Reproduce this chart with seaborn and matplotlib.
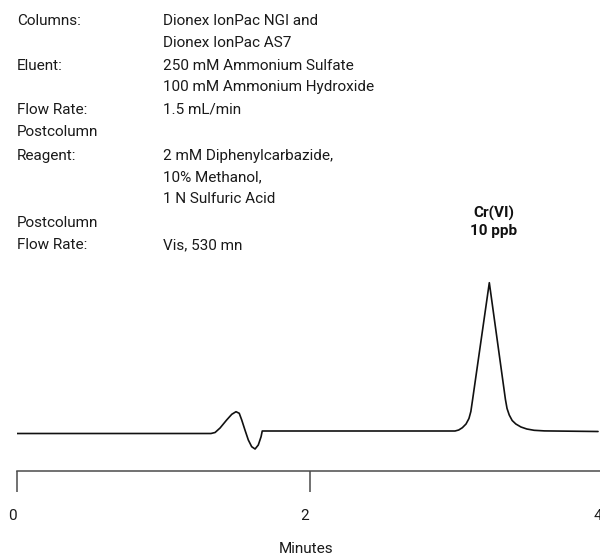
import seaborn as sns
import matplotlib.pyplot as plt
from matplotlib.transforms import ScaledTranslation
import pandas as pd

# Chromatogram trace (minutes, detector signal)
tempo = [0.000, 1.324, 1.352, 1.386, 1.431, 1.466, 1.495, 1.517, 1.534, 1.556,
         1.579, 1.602, 1.625, 1.647, 1.666, 1.674, 2.990, 3.015, 3.040, 3.065,
         3.085, 3.098, 3.110, 3.224, 3.334, 3.345, 3.360, 3.380, 3.405, 3.440,
         3.480, 3.530, 3.600, 3.966]
sinal = [0.0, 0.0, 1.0, 5.5, 13.5, 19.2, 21.8, 20.2, 13.5, 3.5,
         -6.5, -13.2, -15.5, -11.5, -3.2, 2.5, 2.5, 3.5, 5.8, 9.5,
         15.0, 22.0, 34.0, 150.8, 34.0, 25.0, 18.5, 13.0, 9.5, 6.5,
         4.5, 3.2, 2.6, 2.0]

ticks_x = [0, 2, 4]
ticks_lbl = ["0", "2", "4"]

# Condições (texto do cabeçalho)
rotulos = ["Columns:", "", "Eluent:", "", "Flow Rate:", "Postcolumn", "Reagent:",
           "", "", "Postcolumn", "Flow Rate:"]
valores = ["Dionex IonPac NGI and", "Dionex IonPac AS7", "250 mM Ammonium Sulfate",
           "100 mM Ammonium Hydroxide", "1.5 mL/min", "", "2 mM Diphenylcarbazide,",
           "10% Methanol,", "1 N Sulfuric Acid", "", "Vis, 530 mn"]
pico_nome = "Cr(VI)\n10 ppb"
eixo_nome = "Minutes"

# posições das linhas do cabeçalho (px a partir do topo)
linhas_y = [21, 43, 66, 87, 110, 132, 156, 177, 199, 223, 245]

df = pd.DataFrame({"Minutes": tempo, "Signal": sinal})

sns.set_style("white")
plt.rcParams['font.family'] = ['Roboto', 'DejaVu Sans']

W, H = 600, 558
FS = 11
COR_TXT = "#1a1a1a"
fig = plt.figure(figsize=(6, 5.58), dpi=100)
ax = fig.add_axes([17 / W, 87 / H, 586 / W, 201 / H])

sns.lineplot(data=df, x="Minutes", y="Signal", ax=ax, color="#111111",
             linewidth=1.2, estimator=None, sort=False)

ax.set_xlim(0, 4)
ax.set_ylim(-37.5, 163.5)
ax.set_xticks(ticks_x)
ax.set_xticklabels(ticks_lbl)
ax.set_yticks([])
ax.set_xlabel("")
ax.set_ylabel("")
for s in ["left", "top", "right"]:
    ax.spines[s].set_visible(False)
ax.spines["bottom"].set_color("#4a4a4a")
ax.spines["bottom"].set_linewidth(1.1)
ax.tick_params(axis="x", bottom=True, direction="out", length=15, width=1.1,
               color="#4a4a4a", pad=12, labelsize=FS, labelcolor=COR_TXT)
desloc = ScaledTranslation(-5 / 100, 0, fig.dpi_scale_trans)
for lbl in ax.get_xticklabels():
    lbl.set_transform(lbl.get_transform() + desloc)

# rótulo do pico
fig.text(494 / W, 1 - 222 / H, pico_nome, ha="center", va="center",
         fontsize=FS, fontweight="bold", color="#111111", linespacing=1.3)

fig.text(306 / W, 1 - 549 / H, eixo_nome, ha="center", va="center",
         fontsize=FS, color=COR_TXT)

for r, v, y in zip(rotulos, valores, linhas_y):
    if r:
        fig.text(17 / W, 1 - y / H, r, ha="left", va="center", fontsize=FS,
                 color=COR_TXT)
    if v:
        fig.text(163 / W, 1 - y / H, v, ha="left", va="center", fontsize=FS,
                 color=COR_TXT)

fig.savefig("out.png", dpi=100)
